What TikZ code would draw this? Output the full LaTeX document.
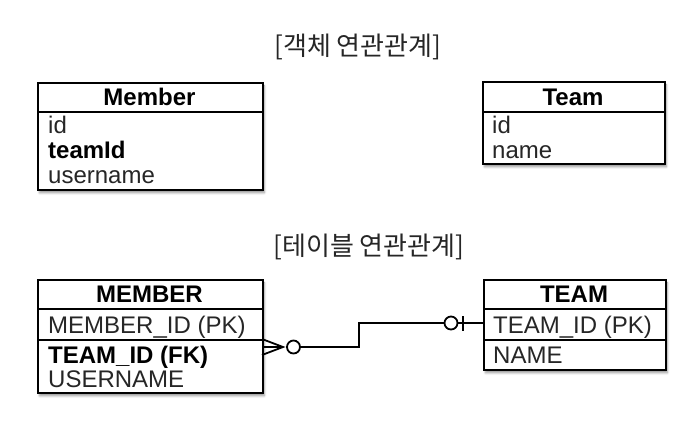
\documentclass[tikz,border=0pt]{standalone}
\usepackage{fontspec}
\setmainfont{Liberation Sans}
\newfontfamily\cjk{Noto Sans CJK KR}
\usetikzlibrary{shadows.blur}
\tikzset{
  box/.style={draw=black, line width=1.8pt, fill=white, anchor=north west, inner sep=0pt,
    blur shadow={shadow xshift=1.5pt, shadow yshift=-3pt, shadow blur steps=5, shadow opacity=40}},
  sep/.style={line width=1.8pt},
  hdr/.style={font=\fontsize{24}{24}\selectfont\bfseries, anchor=base},
  fld/.style={font=\fontsize{24}{24}\selectfont, anchor=base west, inner sep=0pt, text=black!85},
  fldb/.style={font=\fontsize{24}{24}\selectfont\bfseries, anchor=base west, inner sep=0pt},
  ttl/.style={font=\fontsize{26}{26}\selectfont\cjk, text=black!85},
  conn/.style={line width=1.8pt},
}
\begin{document}
\begin{tikzpicture}[x=1pt, y=-1pt]
\useasboundingbox (0,0) rectangle (700,429);
% titles
\node[ttl] (t1) at (358,47) {[객체 연관관계]};
\node[ttl] (t2) at (369,247) {[테이블 연관관계]};
% Member (object)
\node[box, minimum width=225pt, minimum height=107pt] (m) at (37,82) {};
\draw[sep] (37,112) -- (262,112);
\node[hdr] (mh) at (149.5,105) {Member};
\node[fld] (m1) at (48,133) {id};
\node[fldb] (m2) at (48,158) {teamId};
\node[fld] (m3) at (48,183) {username};
% Team (object)
\node[box, minimum width=182pt, minimum height=82pt] (t) at (482,81) {};
\draw[sep] (482,112) -- (664,112);
\node[hdr] (th) at (573,105) {Team};
\node[fld] (t1f) at (492,133) {id};
\node[fld] (t2f) at (492,158) {name};
% MEMBER (table)
\node[box, minimum width=225pt, minimum height=113pt] (M) at (37,279) {};
\draw[sep] (37,309) -- (262,309);
\draw[sep] (37,340) -- (262,340);
\node[hdr] (Mh) at (149.5,302) {MEMBER};
\node[fld] (M1) at (48,333) {MEMBER\_ID (PK)};
\node[fldb] (M2) at (48,363) {TEAM\_ID (FK)};
\node[fld] (M3) at (48,387) {USERNAME};
% TEAM (table)
\node[box, minimum width=182pt, minimum height=90pt] (T) at (483,279) {};
\draw[sep] (483,309) -- (665,309);
\draw[sep] (483,340) -- (665,340);
\node[hdr] (Th) at (574,302) {TEAM};
\node[fld] (T1) at (493,333) {TEAM\_ID (PK)};
\node[fld] (T2) at (493,363) {NAME};
% connector
\coordinate (a) at (262,347);
\coordinate (b) at (483,323);
\draw[conn] (262,339) -- (283,347) -- (262,355);
\draw[conn] (a) -- (283,347);
\draw[conn] (293.5,347) circle (6.5);
\draw[conn] (300,347) -- (359,347) -- (359,323) -- (444.5,323);
\draw[conn] (451,323) circle (6.5);
\draw[conn] (463,316) -- (463,331);
\draw[conn] (457.5,323) -- (b);
\end{tikzpicture}
\end{document}
